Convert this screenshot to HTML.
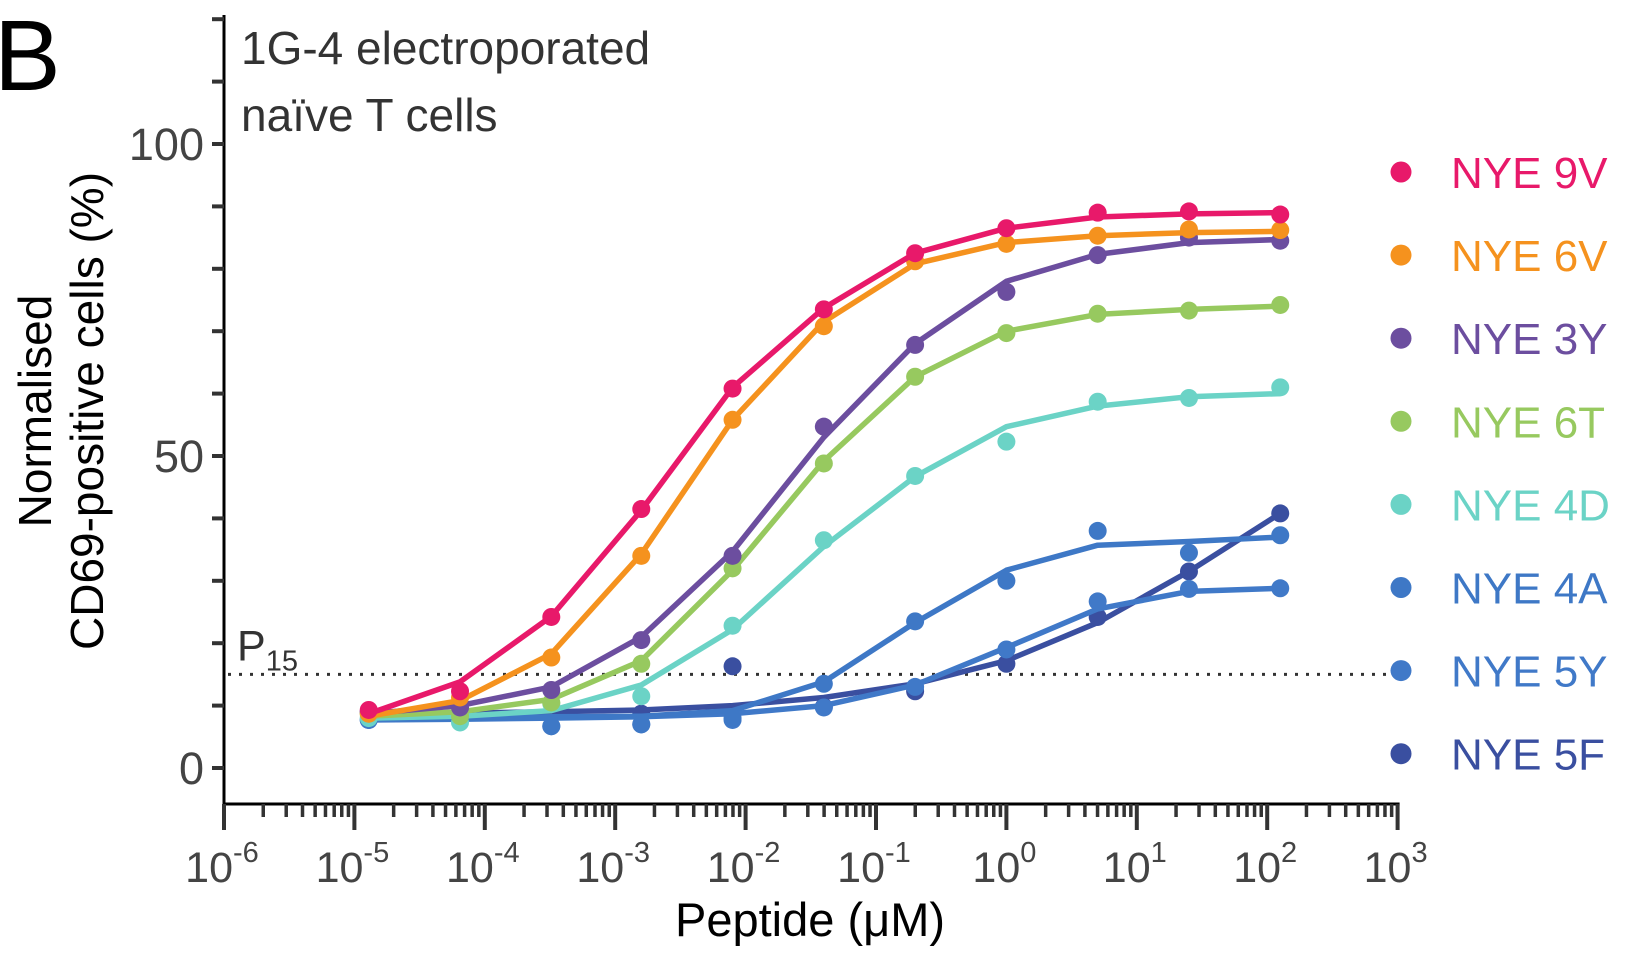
<!DOCTYPE html>
<html><head><meta charset="utf-8"><style>
html,body{margin:0;padding:0;background:#fff;}
svg{display:block;font-family:"Liberation Sans",sans-serif;}
</style></head><body>
<svg id="chart" width="1632" height="960" viewBox="0 0 1632 960">
<text x="-6" y="90" font-size="100" fill="#000">B</text>
<text x="241" y="64" font-size="46" fill="#333">1G-4 electroporated</text>
<text x="241" y="131" font-size="46" fill="#333">naïve T cells</text>
<g id="axes"></g>
<g id="series"></g>
<g id="legend"></g>
<text x="810" y="936" font-size="47" text-anchor="middle" fill="#000">Peptide (μM)</text>
<g transform="translate(0,411) rotate(-90)">
<text x="0" y="51" font-size="46" text-anchor="middle" fill="#000">Normalised</text>
<text x="0" y="103" font-size="46" text-anchor="middle" fill="#000">CD69-positive cells (%)</text>
</g>
</svg>
<script>
const logX = [-4.89,-4.19,-3.49,-2.80,-2.10,-1.40,-0.70,0,0.70,1.40,2.10];
const names = ["NYE 9V","NYE 6V","NYE 3Y","NYE 6T","NYE 4D","NYE 4A","NYE 5Y","NYE 5F"];
const colors = ["#e8196a","#f5921e","#6c4e9f","#97c95f","#6bd3c6","#3e78c6","#4079c8","#3a4fa0"];
const pts9V = [9.3,12.3,24.2,41.5,60.8,73.5,82.5,86.5,89,89.2,88.7];
const fit9V = [8.7,13.8,24.3,41.3,61,73.7,82.5,86.5,88.3,88.8,89];
const pts6V = [8.7,11.3,17.7,34,55.8,70.8,81.2,84,85.3,86.3,86.2];
const fit6V = [8.3,10.8,18.3,34.3,55.8,71.5,80.8,84.2,85.3,85.8,86];
const pts3Y = [9,9.7,12.5,20.5,34,54.7,67.8,76.3,82.2,85,84.5];
const fit3Y = [8.7,10,13,21,34.7,53,68,78,82.3,84.2,84.7];
const pts6T = [8.7,8.3,10.5,16.7,32,48.8,62.7,69.7,72.8,73.3,74.2];
const fit6T = [8.3,9,11,17.2,31.7,49.2,62.7,70,72.7,73.5,74];
const pts4D = [8,7.3,10.3,11.5,22.8,36.5,46.8,52.3,58.7,59.3,61];
const fit4D = [8,8.3,9.2,13.3,22.2,35.5,46.7,54.7,58,59.5,60];
const pts4A = [7.7,8.3,6.7,7,8,13.5,23.5,30,38,34.5,37.3];
const fit4A = [8,8,8.2,8.3,9.2,13.8,23.3,31.7,35.7,36.3,37];
const pts5Y = [7.7,8,6.7,7,7.7,9.7,13,19,26.7,28.7,28.8];
const fit5Y = [7.7,7.8,8,8.2,8.7,10,13.3,19.3,25.5,28.3,28.8];
const pts5F = [9,8.7,8.7,8.7,16.3,9.8,12.3,16.7,24.2,31.5,40.8];
const fit5F = [8.7,8.8,9,9.3,10,11.3,13.5,17.2,23.3,31.5,40.8];
const yTicks = [0,10,20,30,40,50,60,70,80,90,100,110,120];
const yLabels = [0,50,100];
const xDecades = [-6,-5,-4,-3,-2,-1,0,1,2,3];
const threshold = 15;

const allPts = [pts9V,pts6V,pts3Y,pts6T,pts4D,pts4A,pts5Y,pts5F];
const allFit = [fit9V,fit6V,fit3Y,fit6T,fit4D,fit4A,fit5Y,fit5F];

const X0=224, DEC=130.4, Y0=768, YS=6.24;
const xs = l => X0 + (l+6)*DEC;
const ys = v => Y0 - v*YS;
const NS="http://www.w3.org/2000/svg";
function mk(tag, attrs, parent){const e=document.createElementNS(NS,tag);for(const k in attrs)e.setAttribute(k,attrs[k]);parent.appendChild(e);return e;}
const axes=document.getElementById('axes');
const C="#333";
let yl=mk('line',{x1:X0,y1:15,x2:X0,y2:805,stroke:"#000","stroke-width":3},axes);


yTicks.forEach(v=>{
  const t=mk('line',{x1:X0-12,y1:ys(v),x2:X0,y2:ys(v),stroke:C,"stroke-width":4},axes);
  
  
});
yLabels.forEach(v=>{
  const t=mk('text',{x:X0-20,y:ys(v)+16,"font-size":45,"text-anchor":"end",fill:"#444"},axes);
  t.textContent=v;
  
  
});
const xEnd=xs(3);
let xl=mk('line',{x1:X0-1.5,y1:804,x2:xEnd+2,y2:804,stroke:"#000","stroke-width":3},axes);


xDecades.forEach((d,i)=>{
  const t=mk('line',{x1:xs(d),y1:804,x2:xs(d),y2:830,stroke:C,"stroke-width":4},axes);
  
  
  if(i<xDecades.length-1){
    for(let m=2;m<=9;m++){
      const mt=mk('line',{x1:xs(d+Math.log10(m)),y1:804,x2:xs(d+Math.log10(m)),y2:817,stroke:C,"stroke-width":3.5},axes);
      
      
    }
  }
  const lb=mk('text',{x:xs(d)-2,y:882,"font-size":43,"text-anchor":"middle",fill:"#444"},axes);
  
  
  const a=document.createElementNS(NS,'tspan');a.textContent="10";lb.appendChild(a);
  const b=document.createElementNS(NS,'tspan');b.setAttribute('dy','-20');b.setAttribute('font-size','29');b.textContent=String(d);lb.appendChild(b);
});
let th=mk('line',{x1:X0+4,y1:ys(threshold),x2:xEnd,y2:ys(threshold),stroke:"#333","stroke-width":3,"stroke-dasharray":"3 8"},axes);


let pl=mk('text',{x:237,y:ys(threshold)-14,"font-size":43,fill:"#333"},axes);


pl.innerHTML='P<tspan dy="10" font-size="29">15</tspan>';
const sg=document.getElementById('series');
for(let s=allPts.length-1;s>=0;s--){
  const g=mk('g',{},sg);
  
  
  const d=allFit[s].map((v,i)=>(i?'L':'M')+xs(logX[i]).toFixed(1)+','+ys(v).toFixed(1)).join(' ');
  const p=mk('path',{d:d,fill:"none",stroke:colors[s],"stroke-width":5.5,"stroke-linejoin":"round"},g);
  
  
  allPts[s].forEach((v,i)=>{
    const c=mk('circle',{cx:xs(logX[i]),cy:ys(v),r:9,fill:colors[s]},g);
    
    
  });
}
const lg=document.getElementById('legend');
names.forEach((n,i)=>{
  const y=172+i*83.1;
  const g=mk('g',{},lg);
  
  
  mk('circle',{cx:1401,cy:y,r:10.5,fill:colors[i]},g);
  const t=mk('text',{x:1451,y:y+16,"font-size":44,fill:colors[i]},g);
  t.textContent=n;
});
</script>
</body></html>
